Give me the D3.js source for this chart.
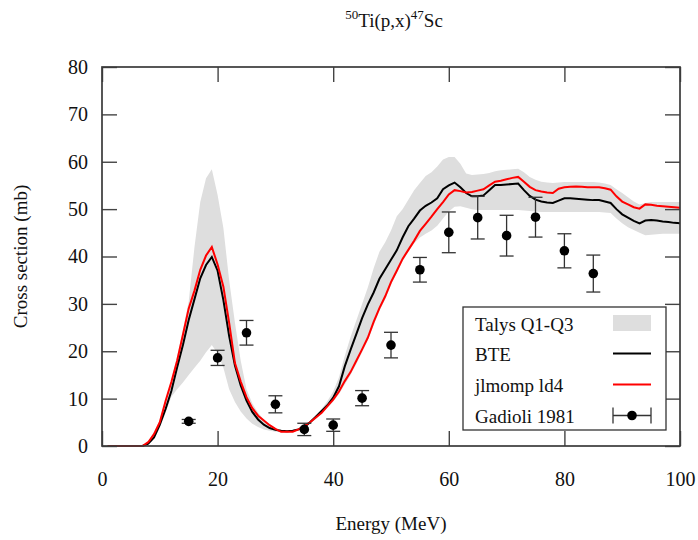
<!DOCTYPE html>
<html>
  <head>
    <meta charset="utf-8">
    <script src="https://d3js.org/d3.v7.min.js"></script>
    <title>50Ti(p,x)47Sc</title>
    <style>
      body {
        margin: 0px;
        background: #fff;
      }
      svg text {
        font-family: 'Liberation Serif', 'DejaVu Serif', serif;
      }
      .domain {
        display: none;
      }
      .tick line {
        stroke: #444;
        stroke-width: 1.4;
      }
    </style>
  </head>
  <body>
    <svg width="698" height="540"></svg>
    <script>
      // energy grid (MeV) shared by the three calculated curves
      const energy = [1, 7, 8, 9, 10, 11, 12, 13, 14, 15, 16, 17, 18, 19, 20,
        21, 22, 23, 24, 25, 26, 27, 28, 29, 30, 31, 32, 33, 34, 35, 36, 37, 38, 39, 40,
        41, 42, 43, 44, 45, 46, 47, 48, 49, 50, 51, 52, 53, 54, 55, 56, 57, 58, 59, 60,
        61, 62, 63, 64, 65, 66, 67, 68, 69, 70, 71, 72, 73, 74, 75, 76, 77, 78, 79, 80,
        81, 82, 83, 84, 85, 86, 87, 88, 89, 90, 91, 92, 93, 94, 95, 96, 97, 98, 99, 100];

      const bte = [0, 0, 0.5, 1.8, 4.5, 7.8, 11.6, 16.6, 21.3, 26.6, 31.0, 35.4, 38.2, 39.9, 37.0,
        30.8, 23.2, 17.0, 12.8, 9.6, 7.2, 5.6, 4.5, 3.8, 3.4, 3.2, 3.1, 3.2, 3.5, 4.0, 5.0, 6.2, 7.4, 8.6, 10.2,
        12.6, 16.8, 20.3, 23.6, 27.0, 29.9, 32.4, 35.3, 37.3, 39.3, 41.3, 44.0, 46.4, 48.0, 49.7, 50.7, 51.4, 52.3, 54.2, 55.0,
        55.6, 54.6, 53.4, 52.7, 52.7, 52.9, 54.0, 55.1, 55.1, 55.2, 55.3, 55.4, 54.0, 52.8, 52.0, 51.6, 51.4, 51.3, 51.8, 52.3,
        52.3, 52.2, 52.1, 52.0, 51.9, 51.9, 51.6, 51.3, 50.0, 48.9, 48.2, 47.5, 47.0, 47.6, 47.7, 47.6, 47.4, 47.3, 47.1, 47.0];

      const jlmomp = [0, 0, 0.8, 2.5, 5.0, 9.5, 13.5, 18.0, 23.5, 29.0, 32.8, 37.2, 40.2, 42.0, 38.3,
        33.6, 26.0, 17.5, 13.6, 10.3, 8.0, 6.4, 5.4, 4.4, 3.6, 3.0, 3.0, 3.0, 3.5, 4.2, 5.0, 6.0, 7.0, 8.4, 9.8,
        11.5, 13.7, 15.6, 18.0, 20.4, 22.9, 26.2, 29.1, 31.6, 34.6, 37.0, 39.5, 41.4, 43.3, 45.4, 46.9, 48.4, 50.0, 51.5, 53.1,
        54.0, 53.8, 53.5, 53.6, 53.9, 54.2, 55.0, 55.8, 56.0, 56.3, 56.6, 56.8, 55.8, 54.7, 54.0, 53.7, 53.5, 53.4, 54.3, 54.6,
        54.7, 54.8, 54.7, 54.6, 54.6, 54.6, 54.4, 54.1, 52.7, 51.6, 51.0, 50.4, 50.1, 51.0, 50.9, 50.7, 50.6, 50.5, 50.4, 50.3];

      const talysQ1 = [0, 0, 0.4, 1.5, 3.8, 7.0, 10.4, 12.0, 13.4, 15.0, 16.5, 18.0, 19.8, 21.3, 19.5,
        16.5, 12.0, 9.3, 7.3, 5.8, 4.7, 4.0, 3.5, 3.2, 3.0, 2.9, 2.9, 3.0, 3.3, 3.9, 4.7, 5.7, 6.8, 8.0, 9.4,
        11.0, 13.0, 15.0, 17.3, 19.8, 22.4, 25.5, 28.5, 31.0, 34.0, 36.5, 39.0, 41.0, 42.8, 44.0, 44.8, 45.5, 46.5, 48.0, 49.5,
        50.5, 50.6, 50.3, 50.0, 49.8, 49.8, 49.8, 49.8, 49.8, 49.8, 49.8, 49.8, 49.7, 49.6, 49.5, 49.4, 49.4, 49.4, 49.4, 49.4,
        49.4, 49.4, 49.4, 49.4, 49.4, 49.4, 49.3, 49.2, 48.0, 47.0, 46.2, 45.6, 45.0, 44.5, 44.6, 44.7, 44.8, 44.8, 44.8, 44.8];

      const talysQ3 = [0, 0, 1.0, 3.0, 5.5, 9.8, 14.0, 19.0, 24.5, 30.5, 42.0, 51.5, 56.5, 58.4, 53.0,
        46.0, 35.0, 26.0, 18.0, 12.0, 9.0, 7.0, 5.6, 4.5, 3.8, 3.4, 3.3, 3.4, 3.8, 4.5, 5.3, 6.5, 7.8, 9.5, 11.5,
        14.5, 19.0, 23.0, 26.5, 30.0, 33.5, 37.5, 41.0, 43.0, 45.5, 48.5, 50.0, 52.0, 54.0, 55.5, 57.0, 57.8, 59.0, 60.5, 61.0,
        61.0, 59.6, 57.5, 57.2, 57.3, 57.4, 57.6, 58.0, 58.2, 58.3, 58.4, 58.5, 57.8, 56.8, 56.2, 55.8, 55.6, 55.5, 55.6, 55.7,
        55.7, 55.7, 55.7, 55.7, 55.7, 55.6, 55.4, 55.1, 54.2, 53.4, 52.5, 51.6, 51.0, 51.3, 51.5, 51.5, 51.5, 51.5, 51.5, 51.5];

      // Gadioli 1981 measurements
      const expEnergy = [15, 20, 25, 30, 35, 40, 45, 50, 55, 60, 65, 70, 75, 80, 85];
      const expSigma = [5.2, 18.6, 23.9, 8.8, 3.5, 4.4, 10.1, 21.3, 37.2, 45.1, 48.2, 44.4, 48.3, 41.2, 36.4];
      const expErr = [0.4, 1.6, 2.6, 1.8, 1.3, 1.3, 1.6, 2.7, 2.6, 4.3, 4.5, 4.3, 4.2, 3.6, 3.9];

      const xTicks = [0, 20, 40, 60, 80, 100];
      const yTicks = [0, 10, 20, 30, 40, 50, 60, 70, 80];
      const legendLabels = ['Talys Q1-Q3', 'BTE', 'jlmomp ld4', 'Gadioli 1981'];

      const margin = { left: 102, right: 18, top: 67, bottom: 94 };
      const svg = d3.select('svg');
      const width = +svg.attr('width');
      const height = +svg.attr('height');
      const innerWidth = width - margin.left - margin.right;
      const innerHeight = height - margin.top - margin.bottom;

      const g = svg.append('g')
          .attr('transform', `translate(${margin.left},${margin.top})`);

      const xScale = d3.scaleLinear().domain([0, 100]).range([0, innerWidth]);
      const yScale = d3.scaleLinear().domain([0, 80]).range([innerHeight, 0]);

      const curve = (ys) => energy.map((e, i) => ({ e: e, y: ys[i] }));

      const area = d3.area()
          .x(d => xScale(d.e))
          .y0(d => yScale(d.lo))
          .y1(d => yScale(d.hi));

      const line = d3.line()
          .x(d => xScale(d.e))
          .y(d => yScale(d.y));

      g.append('path')
          .datum(energy.map((e, i) => ({ e: e, lo: talysQ1[i], hi: talysQ3[i] })))
          .attr('fill', '#dedede')
          .attr('d', area);

      g.append('path')
          .datum(curve(bte))
          .attr('fill', 'none')
          .attr('stroke', '#000')
          .attr('stroke-width', 2)
          .attr('d', line);

      g.append('path')
          .datum(curve(jlmomp))
          .attr('fill', 'none')
          .attr('stroke', '#f00')
          .attr('stroke-width', 2)
          .attr('d', line);

      // axes, ticks pointing inward on all four sides
      const xAxisG = g.append('g')
          .attr('transform', `translate(0,${innerHeight})`)
          .call(d3.axisBottom(xScale).tickValues(xTicks).tickSize(-15).tickPadding(0));
      xAxisG.selectAll('text').attr('y', 40).attr('dy', null);

      g.append('g')
          .call(d3.axisTop(xScale).tickValues(xTicks).tickSize(-15))
          .selectAll('text').remove();

      g.append('g')
          .call(d3.axisLeft(yScale).tickValues(yTicks).tickSize(-15).tickPadding(14));

      g.append('g')
          .attr('transform', `translate(${innerWidth},0)`)
          .call(d3.axisRight(yScale).tickValues(yTicks).tickSize(-15))
          .selectAll('text').remove();

      g.selectAll('.tick text')
          .attr('font-size', 20)
          .attr('fill', '#111');

      g.append('rect')
          .attr('width', innerWidth)
          .attr('height', innerHeight)
          .attr('fill', 'none')
          .attr('stroke', '#3a3a3a')
          .attr('stroke-width', 1.7);

      // experimental points with error bars
      const exp = expEnergy.map((e, i) => ({ e: e, y: expSigma[i], err: expErr[i] }));
      const pts = g.selectAll('.pt').data(exp).enter().append('g').attr('class', 'pt');
      pts.append('line')
          .attr('x1', d => xScale(d.e)).attr('x2', d => xScale(d.e))
          .attr('y1', d => yScale(d.y - d.err)).attr('y2', d => yScale(d.y + d.err))
          .attr('stroke', '#333').attr('stroke-width', 1.3);
      pts.append('line')
          .attr('x1', d => xScale(d.e) - 7).attr('x2', d => xScale(d.e) + 7)
          .attr('y1', d => yScale(d.y + d.err)).attr('y2', d => yScale(d.y + d.err))
          .attr('stroke', '#333').attr('stroke-width', 1.3);
      pts.append('line')
          .attr('x1', d => xScale(d.e) - 7).attr('x2', d => xScale(d.e) + 7)
          .attr('y1', d => yScale(d.y - d.err)).attr('y2', d => yScale(d.y - d.err))
          .attr('stroke', '#333').attr('stroke-width', 1.3);
      pts.append('circle')
          .attr('cx', d => xScale(d.e))
          .attr('cy', d => yScale(d.y))
          .attr('r', 4.8)
          .attr('fill', '#000');

      // legend
      const legend = svg.append('g')
          .attr('transform', 'translate(463,307)');
      legend.append('rect')
          .attr('width', 203)
          .attr('height', 123)
          .attr('fill', '#fff')
          .attr('stroke', '#333')
          .attr('stroke-width', 1.3);
      legend.selectAll('text').data(legendLabels).enter().append('text')
          .attr('x', 12)
          .attr('y', (d, i) => 23.5 + i * 30.7)
          .attr('font-size', 19)
          .attr('fill', '#111')
          .text(d => d);
      legend.append('rect')
          .attr('x', 150).attr('y', 8).attr('width', 38).attr('height', 16)
          .attr('fill', '#dedede');
      legend.append('line')
          .attr('x1', 150).attr('x2', 188).attr('y1', 46.5).attr('y2', 46.5)
          .attr('stroke', '#000').attr('stroke-width', 2);
      legend.append('line')
          .attr('x1', 150).attr('x2', 188).attr('y1', 77.5).attr('y2', 77.5)
          .attr('stroke', '#f00').attr('stroke-width', 2);
      legend.append('line')
          .attr('x1', 150).attr('x2', 188).attr('y1', 108.5).attr('y2', 108.5)
          .attr('stroke', '#333').attr('stroke-width', 1.3);
      legend.append('line')
          .attr('x1', 150).attr('x2', 150).attr('y1', 100.5).attr('y2', 116.5)
          .attr('stroke', '#333').attr('stroke-width', 1.3);
      legend.append('line')
          .attr('x1', 188).attr('x2', 188).attr('y1', 100.5).attr('y2', 116.5)
          .attr('stroke', '#333').attr('stroke-width', 1.3);
      legend.append('circle')
          .attr('cx', 169).attr('cy', 108.5).attr('r', 4.8).attr('fill', '#000');

      // axis titles
      svg.append('text')
          .attr('x', margin.left + innerWidth / 2)
          .attr('y', 530)
          .attr('text-anchor', 'middle')
          .attr('font-size', 19)
          .attr('fill', '#111')
          .text('Energy (MeV)');

      svg.append('text')
          .attr('transform', `translate(27,${margin.top + innerHeight / 2}) rotate(-90)`)
          .attr('text-anchor', 'middle')
          .attr('font-size', 19)
          .attr('fill', '#111')
          .text('Cross section (mb)');

      const title = svg.append('text')
          .attr('x', margin.left + innerWidth / 2 + 3)
          .attr('y', 27)
          .attr('text-anchor', 'middle')
          .attr('font-size', 19)
          .attr('fill', '#111');
      title.append('tspan').attr('dy', -8).attr('font-size', 13).text('50');
      title.append('tspan').attr('dy', 8).text('Ti(p,x)');
      title.append('tspan').attr('dy', -8).attr('font-size', 13).text('47');
      title.append('tspan').attr('dy', 8).text('Sc');
    </script>
  </body>
</html>
